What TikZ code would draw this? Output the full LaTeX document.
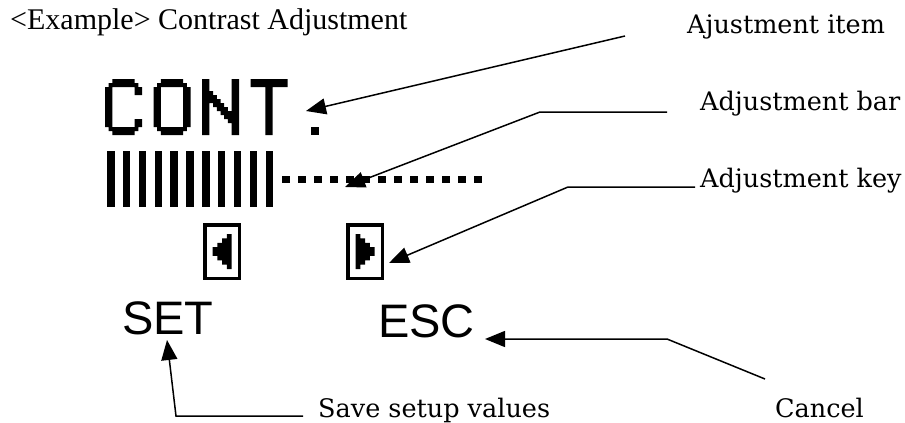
\documentclass[tikz,border=0pt]{standalone}
\usepackage{fontspec}
\setmainfont{Liberation Serif}
\newfontfamily\labelfont{DejaVu Serif}
\newfontfamily\keyfont{Liberation Sans}
\usetikzlibrary{arrows.meta}
\newcommand\keytri{\fill (9.5,-17.5) -- (4.75,-17.5) -- (4.75,-13.125) -- (0,-13.125) -- (0,-8.75) -- (-4.75,-8.75) -- (-4.75,-4.375) -- (-9.5,-4.375) -- (-9.5,4.375) -- (-4.75,4.375) -- (-4.75,8.75) -- (0,8.75) -- (0,13.125) -- (4.75,13.125) -- (4.75,17.5) -- (9.5,17.5) -- cycle;}
\begin{document}
\begin{tikzpicture}[x=1pt,y=-1pt,
  lab/.style={font=\labelfont\fontsize{25.5}{30}\selectfont, anchor=base west, inner sep=0},
  keytxt/.style={font=\keyfont\fontsize{47}{50}\selectfont, anchor=base west, inner sep=0},
  arr/.style={line width=1.5pt, -{Triangle[length=20pt,width=16pt]}},
  conn/.style={line width=1.5pt},
  keybox/.style={draw, line width=3.5pt, minimum width=34.5pt, minimum height=53.5pt, inner sep=0}]
\fill[white] (0,0) rectangle (905,423);
\useasboundingbox (0,0) rectangle (905,423);

% title
\node[anchor=base west, inner sep=0, font=\fontsize{30}{34}\selectfont] (title) at (10,29) {<Example> Contrast Adjustment};

% CONT in LCD pixel font
\begin{scope}[shift={(105pt,-79pt)}, x=7.4pt, y=-8pt]
  \fill (1,0) rectangle (4,1) (0,1) rectangle (1,6) (1,6) rectangle (4,7) (4,1) rectangle (5,2) (4,5) rectangle (5,6)
        (0.5,0.5) rectangle (1,1) (4,0.5) rectangle (4.5,1) (0.5,6) rectangle (1,6.5) (4,6) rectangle (4.5,6.5);
\end{scope}
\begin{scope}[shift={(153.5pt,-79pt)}, x=7.4pt, y=-8pt]
  \fill (1,0) rectangle (4,1) (0,1) rectangle (1,6) (1,6) rectangle (4,7) (4,1) rectangle (5,6)
        (0.5,0.5) rectangle (1,1) (4,0.5) rectangle (4.5,1) (0.5,6) rectangle (1,6.5) (4,6) rectangle (4.5,6.5);
\end{scope}
\begin{scope}[shift={(202pt,-79pt)}, x=7.4pt, y=-8pt]
  \fill (0,0) rectangle (1,7) (4,0) rectangle (5,7) (1,2) rectangle (2,3) (2,3) rectangle (3,4) (3,4) rectangle (4,5)
        (1,1.5) rectangle (1.5,2) (2,2.5) rectangle (2.5,3) (1.5,3) rectangle (2,3.5) (3,3.5) rectangle (3.5,4) (2.5,4) rectangle (3,4.5) (3.5,5) rectangle (4,5.5);
\end{scope}
\begin{scope}[shift={(250.5pt,-79pt)}, x=7.4pt, y=-8pt]
  \fill (0,0) rectangle (5,1) (2,1) rectangle (3,7);
\end{scope}
\fill (311,127) rectangle ++(8,8);

% adjustment bar
\foreach \i in {0,...,10} \fill ({107+15.85*\i},151) rectangle ++(7.5,56);
\foreach \i in {0,...,12} \fill ({282+16.04*\i},175.5) rectangle ++(7.5,7.5);

% keys
\node[keybox] (lkey) at (222,251.5) {};
\node[keybox] (rkey) at (365,251.5) {};
\begin{scope}[shift={(lkey.center)}]\keytri\end{scope}
\begin{scope}[shift={(rkey.center)}, xscale=-1]\keytri\end{scope}

\node[keytxt] (set) at (122,334) {SET};
\node[keytxt] (esc) at (378,337) {ESC};

% labels
\node[lab] (item) at (687,34) {Ajustment item};
\node[lab] (bar) at (700,110) {Adjustment bar};
\node[lab] (key) at (700,187) {Adjustment key};
\node[lab] (save) at (318,417) {Save setup values};
\node[lab] (cancel) at (775,417) {Cancel};

% connector points
\coordinate (itemFrom) at (625,36);
\coordinate (itemTip) at (306,111);
\coordinate (barFrom) at (667,112);
\coordinate (barBend) at (540,112);
\coordinate (barTip) at (345,187);
\coordinate (keyFrom) at (695,187);
\coordinate (keyBend) at (568,187);
\coordinate (keyTip) at (389,263);
\coordinate (escFrom) at (765,379);
\coordinate (escBend) at (667,339);
\coordinate (escTip) at (485,339);
\coordinate (setFrom) at (303,416);
\coordinate (setBend) at (176,416);
\coordinate (setTip) at (167,340);

\draw[arr] (itemFrom) -- (itemTip);
\draw[arr] (barFrom) -- (barBend) -- (barTip);
\draw[arr] (keyFrom) -- (keyBend) -- (keyTip);
\draw[arr] (escFrom) -- (escBend) -- (escTip);
\draw[arr] (setFrom) -- (setBend) -- (setTip);
\end{tikzpicture}
\end{document}
